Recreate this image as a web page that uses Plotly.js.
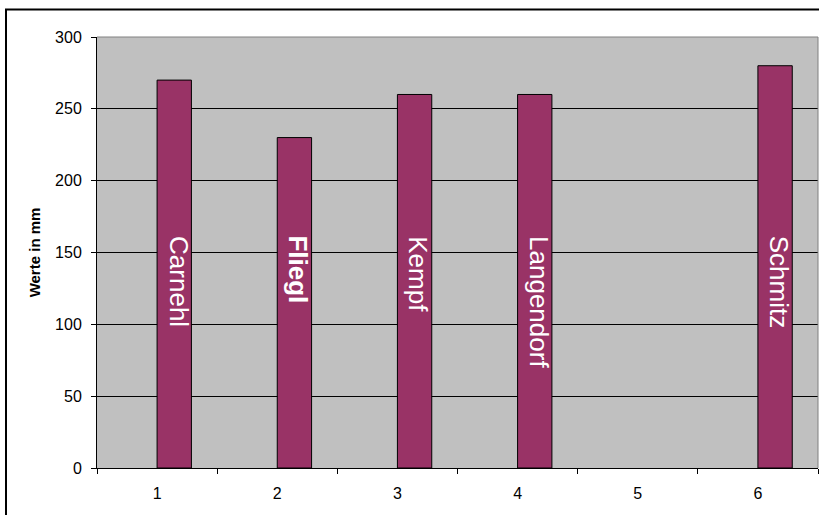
<!DOCTYPE html>
<html>
<head>
<meta charset="utf-8">
<script src="https://cdn.plot.ly/plotly-3.0.1.min.js"></script>
<style>
  html, body { margin: 0; padding: 0; background: #ffffff; }
  #chart { width: 819px; height: 515px; }
</style>
</head>
<body>
<div id="chart"></div>
<script>
// ---- data ----
const categories = ["1", "2", "3", "4", "5", "6"];
const values = [270, 230, 260, 260, null, 280];
const names = ["Carnehl", "Fliegl", "Kempf", "Langendorf", "", "Schmitz"];
const boldNames = ["Fliegl"];
const yTicks = [0, 50, 100, 150, 200, 250, 300];
const yTitle = "Werte in mm";
const labelStartValue = 163;

// ---- style ----
const barWidth = 0.2857;
const font = "Arial, 'Liberation Sans', sans-serif";

const trace = {
  type: "bar",
  x: categories,
  y: values,
  width: barWidth,
  offset: 0,
  marker: { color: "#993366", line: { color: "#000000", width: 1 } },
  hoverinfo: "skip"
};

const annotations = [];
names.forEach((n, i) => {
  if (!n || values[i] == null) return;
  const bold = boldNames.includes(n);
  annotations.push({
    x: i + barWidth / 2,
    xref: "x",
    y: labelStartValue,
    yref: "y",
    xshift: 4,
    text: bold ? "<b>" + n + "</b>" : n,
    showarrow: false,
    textangle: 90,
    xanchor: "center",
    yanchor: "top",
    font: { family: font, size: 26, color: "#ffffff" }
  });
});

const W = 819, H = 515;
const L = 97, R = 1, T = 37, B = 47;
const pw = W - L - R, ph = H - T - B;
const px = v => (v - L) / pw;
const py = v => (H - B - v) / ph;

const layout = {
  width: W,
  height: H,
  margin: { l: L, r: R, t: T, b: B },
  paper_bgcolor: "#ffffff",
  plot_bgcolor: "#C0C0C0",
  showlegend: false,
  font: { family: font, color: "#000000" },
  xaxis: {
    type: "category",
    range: [-0.5, 5.5],
    tickson: "boundaries",
    ticks: "outside",
    ticklen: 5,
    tickcolor: "#000000",
    showgrid: false,
    showline: true,
    linecolor: "#000000",
    linewidth: 1,
    tickfont: { family: font, size: 16, color: "#000000" },
    ticklabelstandoff: 11,
    fixedrange: true
  },
  yaxis: {
    range: [0, 300],
    tickvals: yTicks,
    ticks: "outside",
    ticklen: 5,
    tickcolor: "#000000",
    showgrid: true,
    gridcolor: "#000000",
    gridwidth: 1,
    zeroline: false,
    showline: true,
    linecolor: "#000000",
    linewidth: 1,
    tickfont: { family: font, size: 16, color: "#000000" },
    ticklabelstandoff: 6,
    title: { text: "<b>" + yTitle + "</b>", font: { family: font, size: 15, color: "#000000" }, standoff: 10 },
    automargin: false,
    fixedrange: true
  },
  annotations: annotations,
  shapes: [
    { type: "line", xref: "paper", yref: "paper", x0: 0, x1: 1, y0: 1, y1: 1,
      line: { color: "#808080", width: 1 }, layer: "above" },
    { type: "line", xref: "paper", yref: "paper", x0: 1, x1: 1, y0: 0, y1: 1,
      line: { color: "#808080", width: 1 }, layer: "above" },
    { type: "rect", xref: "paper", yref: "paper",
      x0: px(6), x1: px(840), y0: py(540), y1: py(9.5),
      line: { color: "#000000", width: 2 }, fillcolor: "rgba(0,0,0,0)", layer: "above" }
  ],
  bargap: 0
};

Plotly.newPlot("chart", [trace], layout, { staticPlot: true, displayModeBar: false });
</script>
</body>
</html>
